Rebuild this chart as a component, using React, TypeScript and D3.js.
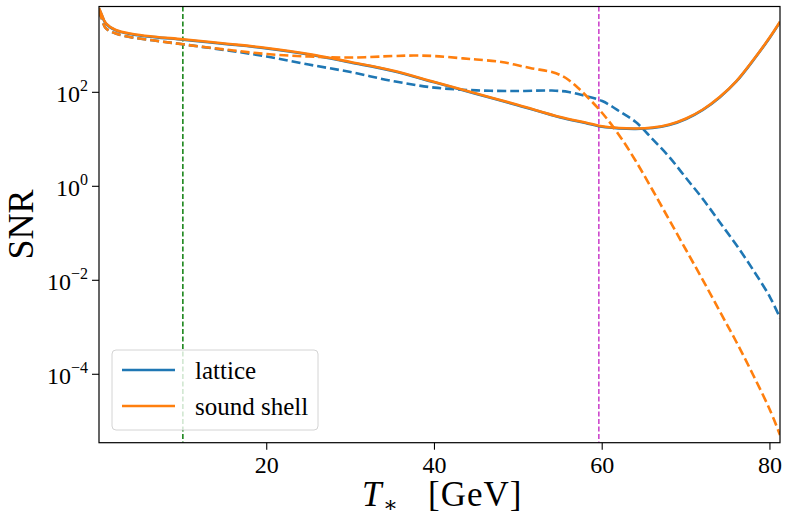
import * as React from 'react'
import * as d3 from 'd3'

// values (SNR vs T_* in GeV)
const tSolid = [0, 0.3, 0.8, 2, 4, 6.6, 10, 15, 20, 25, 30, 35, 40, 45, 50, 55, 58, 60, 62, 64, 66, 68, 70, 72, 74, 76, 78, 80, 81.2]
const latticeSolid = [6100, 4540, 2920, 2080, 1705, 1494, 1316, 1070, 859, 640, 432, 285, 163, 92.4, 52.6, 29.2, 22.3, 18.5, 17.1, 16.7, 17.4, 20.2, 27.1, 42.2, 77.8, 170, 476, 1473, 3114]
const soundShellSolid = [6220, 4630, 2980, 2120, 1740, 1524, 1343, 1092, 877, 653, 441, 291, 166, 94.3, 53.7, 29.8, 22.8, 18.9, 17.4, 17.0, 17.8, 20.6, 27.7, 43.1, 79.4, 174, 486, 1503, 3178]

const tLatticeDashed = [0, 0.3, 0.8, 2, 4, 6.6, 10, 15, 20, 25, 30, 35, 40, 45, 50, 54, 56, 58, 60, 62, 64, 66, 68, 70, 72, 74, 76, 78, 80, 81.2]
const latticeDashed = [5370, 3810, 2335, 1782, 1466, 1265, 1050, 794, 578, 390, 270, 174, 126, 110, 106.6, 109, 101.5, 83.3, 65.3, 40.0, 23.3, 10.1, 4.20, 1.50, 0.537, 0.174, 0.0564, 0.0166, 0.00441, 0.00158]

const tShellDashed = [0, 0.3, 0.8, 2, 4, 6.6, 10, 15, 20, 25, 30, 35, 37.5, 40, 43.4, 45, 48, 51.4, 54, 55, 56, 57, 58, 60, 62, 64, 66, 68, 70, 72, 74, 76, 78, 80, 81.2]
const soundShellDashed = [5370, 3810, 2335, 1782, 1466, 1265, 1050, 815, 653, 578, 550, 591, 606, 591, 528, 499, 441, 329, 270, 233, 183, 130, 87.7, 36.3, 12.4, 3.45, 0.834, 0.192, 0.0441, 0.0101, 0.00222, 4.86e-4, 9.66e-5, 1.74e-5, 5.1e-6]

const xTicks = [20, 40, 60, 80]
const yTickExps = [2, 0, -2, -4]
const vLines = [{t: 10, color: '#0a7d0a'}, {t: 59.6, color: '#c93ac9'}]
const legendItems = [{label: 'lattice', color: '#1f77b4'}, {label: 'sound shell', color: '#ff7f0e'}]

const W = 789, H = 524
const left = 99, right = 780, top = 6.5, bottom = 442.7
const font = '"Liberation Serif", "DejaVu Serif", serif'

const App = () => {
    const x = d3.scaleLinear().domain([0, 81.2]).range([left, right])
    const y = d3.scaleLog().domain([3.5e-6, 6700]).range([bottom, top])

    const line = (ts, vs) => d3.line()
        .x((d) => x(d[0]))
        .y((d) => y(d[1]))
        .curve(d3.curveCatmullRom.alpha(0.5))(ts.map((t, i) => [t, vs[i]]))

    const series = [
        {d: line(tSolid, latticeSolid), color: '#1f77b4', dash: null},
        {d: line(tLatticeDashed, latticeDashed), color: '#1f77b4', dash: '9,4'},
        {d: line(tSolid, soundShellSolid), color: '#ff7f0e', dash: null},
        {d: line(tShellDashed, soundShellDashed), color: '#ff7f0e', dash: '9,4'},
    ]

    return (
        <div style={{position: 'absolute', left: 0, top: 0}}>
            <svg width={W} height={H} style={{display: 'block', background: '#fff'}} fontFamily={font}>
                <defs>
                    <clipPath id="plot">
                        <rect x={left} y={top} width={right - left} height={bottom - top} />
                    </clipPath>
                </defs>

                <g clipPath="url(#plot)">
                    {vLines.map((v) => (
                        <line key={v.t} x1={x(v.t)} x2={x(v.t)} y1={top} y2={bottom}
                              stroke={v.color} strokeWidth={1.5} strokeDasharray="5,2.5" />
                    ))}
                    {series.map((s, i) => (
                        <path key={i} d={s.d} fill="none" stroke={s.color} strokeWidth={2.6}
                              strokeDasharray={s.dash || undefined} />
                    ))}
                </g>

                <rect x={left} y={top} width={right - left} height={bottom - top}
                      fill="none" stroke="#000" strokeWidth={1.2} />

                {xTicks.map((t) => (
                    <g key={t}>
                        <line x1={x(t)} x2={x(t)} y1={bottom} y2={bottom + 7} stroke="#000" strokeWidth={1.1} />
                        <text x={x(t)} y={bottom + 30} fontSize={24} textAnchor="middle">{t}</text>
                    </g>
                ))}

                {yTickExps.map((e) => (
                    <g key={e}>
                        <line x1={left - 7} x2={left} y1={y(Math.pow(10, e))} y2={y(Math.pow(10, e))} stroke="#000" strokeWidth={1.1} />
                        <text x={88} y={y(Math.pow(10, e)) + 9.4} fontSize={24} textAnchor="end">
                            10<tspan fontSize={16} dy={-11}>{e < 0 ? '\u2212' + Math.abs(e) : e}</tspan>
                        </text>
                    </g>
                ))}

                <text transform={`translate(33, ${(top + bottom) / 2}) rotate(-90)`} fontSize={36} textAnchor="middle">SNR</text>

                <text y={506} fontSize={35}>
                    <tspan x={362} fontStyle="italic">T</tspan>
                    <tspan x={383} fontSize={22} dy={6}>{'\u2217'}</tspan>
                    <tspan x={428} dy={-6} letterSpacing={1}>[GeV]</tspan>
                </text>

                <rect x={112} y={350} width={206} height={80} rx={4} fill="#fff" fillOpacity={0.8}
                      stroke="#d4d4d4" strokeWidth={1} />
                {legendItems.map((l, i) => (
                    <g key={l.label}>
                        <line x1={122} x2={175} y1={370 + i * 36} y2={370 + i * 36} stroke={l.color} strokeWidth={2.6} />
                        <text x={195} y={379 + i * 36} fontSize={25}>{l.label}</text>
                    </g>
                ))}
            </svg>
        </div>
    )
}

export default App
